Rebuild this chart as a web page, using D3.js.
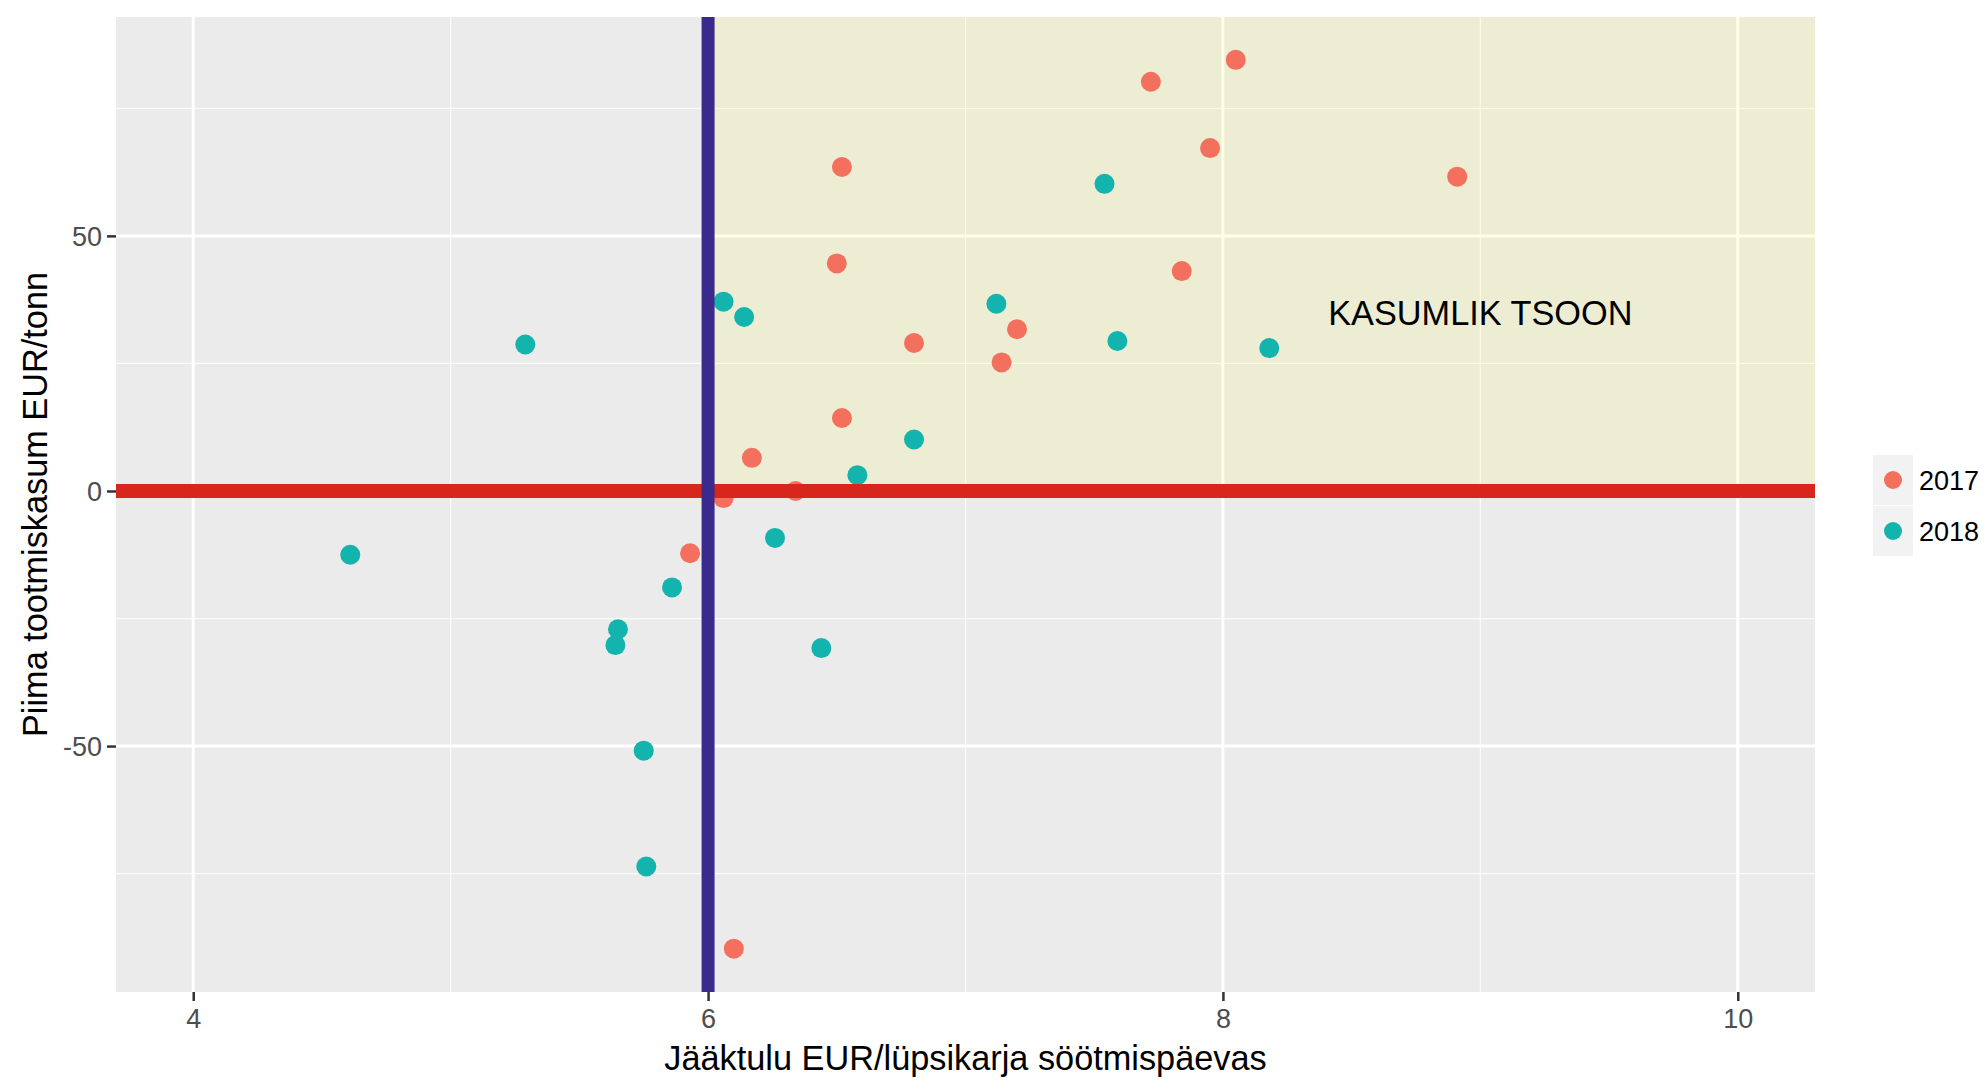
<!DOCTYPE html>
<html>
<head>
<meta charset="utf-8">
<script src="https://cdn.jsdelivr.net/npm/d3@7"></script>
<style>
  html, body { margin: 0; padding: 0; background: #ffffff; }
  svg { display: block; font-family: "Liberation Sans", Arial, sans-serif; }
</style>
</head>
<body>
<svg id="chart" width="1985" height="1081"></svg>
<script>
// ---- data ----
const years = ["2017", "2018"];
const x2017 = [8.05, 7.72, 7.95, 6.52, 6.50, 7.84, 7.20, 6.80, 7.14, 6.52, 6.17, 6.06, 6.34, 5.93, 6.10, 8.91];
const y2017 = [84.5, 80.2, 67.2, 63.5, 44.6, 43.1, 31.7, 29.0, 25.2, 14.3, 6.5, -1.4, 0.0, -12.2, -89.7, 61.6];
const x2018 = [7.54, 6.06, 6.14, 7.12, 7.59, 8.18, 6.80, 6.58, 6.26, 5.86, 6.44, 4.61, 5.65, 5.64, 5.75, 5.76, 5.29];
const y2018 = [60.2, 37.1, 34.1, 36.7, 29.4, 28.0, 10.1, 3.1, -9.2, -18.9, -30.8, -12.5, -27.1, -30.2, -50.9, -73.6, 28.7];
const xTicks = [4, 6, 8, 10];
const yTicks = [-50, 0, 50];
const xMinor = [5, 7, 9];
const yMinor = [-75, -25, 25, 75];
const xDomain = [3.70, 10.30];
const yDomain = [-98.2, 92.9];
const vLineX = 6;
const hLineY = 0;
const zoneLabel = "KASUMLIK TSOON";
const zoneLabelPos = [9, 35];
const xTitle = "Jääktulu EUR/lüpsikarja söötmispäevas";
const yTitle = "Piima tootmiskasum EUR/tonn";

// ---- layout ----
const panel = { left: 116, right: 1815, top: 17, bottom: 992 };
const colors = { "2017": "#F3705F", "2018": "#14B4AE" };

const svg = d3.select("#chart");
const x = d3.scaleLinear().domain(xDomain).range([panel.left, panel.right]);
const y = d3.scaleLinear().domain(yDomain).range([panel.bottom, panel.top]);

const points = [];
x2017.forEach((v, i) => points.push({ year: "2017", x: v, y: y2017[i] }));
x2018.forEach((v, i) => points.push({ year: "2018", x: v, y: y2018[i] }));

// panel background
svg.append("rect")
  .attr("x", panel.left).attr("y", panel.top)
  .attr("width", panel.right - panel.left).attr("height", panel.bottom - panel.top)
  .attr("fill", "#EBEBEB");

// grid
const grid = svg.append("g");
grid.selectAll(".xminor").data(xMinor).join("line")
  .attr("x1", d => x(d)).attr("x2", d => x(d))
  .attr("y1", panel.top).attr("y2", panel.bottom)
  .attr("stroke", "#fff").attr("stroke-width", 1.2).attr("stroke-opacity", 0.8);
grid.selectAll(".yminor").data(yMinor).join("line")
  .attr("y1", d => y(d)).attr("y2", d => y(d))
  .attr("x1", panel.left).attr("x2", panel.right)
  .attr("stroke", "#fff").attr("stroke-width", 1.2).attr("stroke-opacity", 0.8);
grid.selectAll(".xmajor").data(xTicks).join("line")
  .attr("x1", d => x(d)).attr("x2", d => x(d))
  .attr("y1", panel.top).attr("y2", panel.bottom)
  .attr("stroke", "#fff").attr("stroke-width", 3);
grid.selectAll(".ymajor").data(yTicks).join("line")
  .attr("y1", d => y(d)).attr("y2", d => y(d))
  .attr("x1", panel.left).attr("x2", panel.right)
  .attr("stroke", "#fff").attr("stroke-width", 3);

// profitable zone rectangle
svg.append("rect")
  .attr("x", x(vLineX)).attr("y", panel.top)
  .attr("width", panel.right - x(vLineX))
  .attr("height", y(hLineY) - panel.top)
  .attr("fill", "yellow").attr("fill-opacity", 0.1);

// points
svg.append("g").selectAll("circle").data(points).join("circle")
  .attr("cx", d => x(d.x)).attr("cy", d => y(d.y))
  .attr("r", 10)
  .attr("fill", d => colors[d.year]);

// reference lines
svg.append("line")
  .attr("x1", panel.left).attr("x2", panel.right)
  .attr("y1", y(hLineY)).attr("y2", y(hLineY))
  .attr("stroke", "#D7261B").attr("stroke-width", 14);
svg.append("line")
  .attr("x1", x(vLineX)).attr("x2", x(vLineX))
  .attr("y1", panel.top).attr("y2", panel.bottom)
  .attr("stroke", "#3A2A8C").attr("stroke-width", 13);

// zone label
svg.append("text")
  .attr("x", x(zoneLabelPos[0])).attr("y", y(zoneLabelPos[1]))
  .attr("dy", "0.36em")
  .attr("text-anchor", "middle")
  .attr("font-size", 34.3)
  .attr("fill", "#000")
  .text(zoneLabel);

// axes
const fmt = d => String(d);
const xAxis = svg.append("g")
  .attr("transform", `translate(0,${panel.bottom})`)
  .call(d3.axisBottom(x).tickValues(xTicks).tickSize(9).tickPadding(8).tickFormat(fmt));
const yAxis = svg.append("g")
  .attr("transform", `translate(${panel.left},0)`)
  .call(d3.axisLeft(y).tickValues(yTicks).tickSize(9).tickPadding(5).tickFormat(fmt));
[xAxis, yAxis].forEach(a => {
  a.select(".domain").remove();
  a.selectAll(".tick line").attr("stroke", "#333333").attr("stroke-width", 2.5);
  a.selectAll(".tick text").attr("fill", "#4D4D4D").attr("font-size", 27)
    .attr("font-family", "Liberation Sans, Arial, sans-serif");
});
yAxis.selectAll(".tick text").attr("dy", "0.36em");

// axis titles
svg.append("text")
  .attr("x", (panel.left + panel.right) / 2).attr("y", 1070)
  .attr("text-anchor", "middle").attr("font-size", 34.3).attr("fill", "#000")
  .text(xTitle);
svg.append("text")
  .attr("transform", `translate(47,${(panel.top + panel.bottom) / 2}) rotate(-90)`)
  .attr("text-anchor", "middle").attr("font-size", 34.3).attr("fill", "#000")
  .text(yTitle);

// legend
const legend = svg.append("g");
years.forEach((yr, i) => {
  const cy = 480 + i * 51;
  legend.append("rect")
    .attr("x", 1873).attr("y", cy - 25).attr("width", 40).attr("height", 50)
    .attr("fill", "#F2F2F2");
  legend.append("circle")
    .attr("cx", 1893).attr("cy", cy).attr("r", 9).attr("fill", colors[yr]);
  legend.append("text")
    .attr("x", 1919).attr("y", cy).attr("dy", "0.36em")
    .attr("font-size", 27).attr("fill", "#000")
    .text(yr);
});
</script>
</body>
</html>
